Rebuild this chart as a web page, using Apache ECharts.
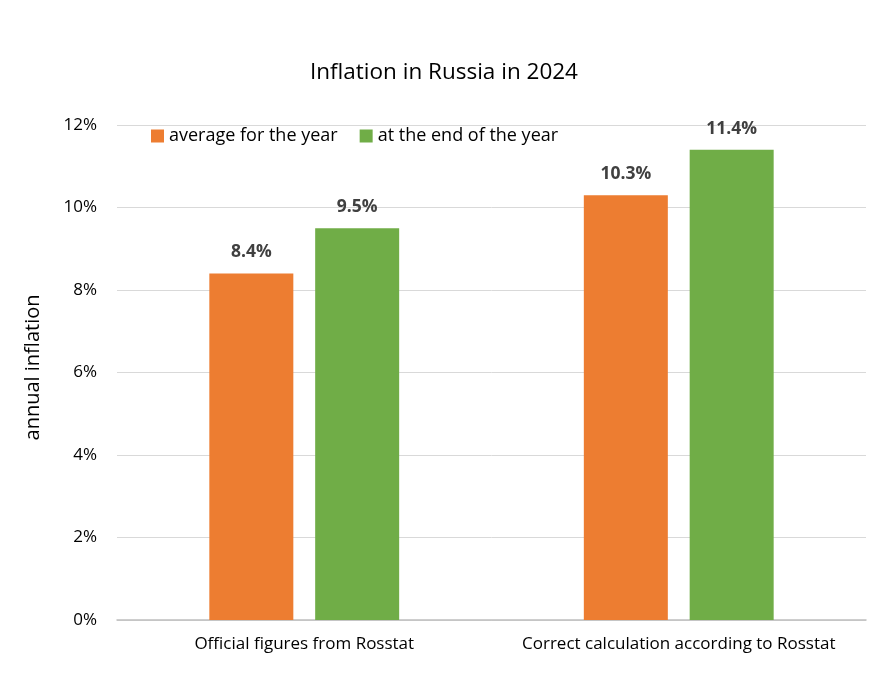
<!DOCTYPE html>
<html>
<head>
<meta charset="utf-8">
<script src="https://cdn.jsdelivr.net/npm/echarts@6/dist/echarts.min.js"></script>
<style>
  html, body { margin: 0; padding: 0; background: #fff; }
  #chart { width: 888px; height: 673px; }
</style>
</head>
<body>
<div id="chart"></div>
<script>
const categories = ['Official figures from Rosstat', 'Correct calculation according to Rosstat'];
const averageForYear = [8.4, 10.3];
const endOfYear = [9.5, 11.4];
const seriesNames = ['average for the year', 'at the end of the year'];
const yTicks = [0, 2, 4, 6, 8, 10, 12];

const font = '"Open Sans", "DejaVu Sans", sans-serif';
const myChart = echarts.init(document.getElementById('chart'));

const option = {
  backgroundColor: '#fff',
  animation: false,
  title: {
    text: 'Inflation in Russia in 2024',
    left: 'center',
    top: 56,
    textStyle: { fontFamily: font, fontSize: 22.5, fontWeight: 'normal', color: '#000' }
  },
  legend: {
    data: seriesNames,
    left: 146,
    top: 122,
    itemWidth: 13,
    itemHeight: 13,
    itemGap: 22,
    icon: 'rect',
    textStyle: { fontFamily: font, fontSize: 18, color: '#000' }
  },
  grid: { left: 117, right: 22, top: 125, bottom: 53 },
  xAxis: {
    type: 'category',
    data: categories,
    axisLine: { lineStyle: { color: '#bfbfbf', width: 1.5 } },
    axisTick: { show: false },
    axisLabel: {
      interval: 0, hideOverlap: false,
      fontFamily: font, fontSize: 17, color: '#000', margin: 16
    }
  },
  yAxis: {
    type: 'value',
    min: yTicks[0],
    max: yTicks[yTicks.length - 1],
    interval: 2,
    name: 'annual inflation',
    nameLocation: 'middle',
    nameGap: 74,
    nameTextStyle: { fontFamily: font, fontSize: 20, color: '#000', padding: [0, 0, 0, 10] },
    axisLine: { show: false },
    axisTick: { show: false },
    splitLine: { lineStyle: { color: '#d9d9d9', width: 1 } },
    axisLabel: {
      fontFamily: font, fontSize: 17, color: '#000', margin: 20,
      formatter: v => v + '%'
    }
  },
  series: [
    {
      name: seriesNames[0],
      type: 'bar',
      data: averageForYear,
      barWidth: 84,
      barGap: '26%',
      itemStyle: { color: '#ed7d31' },
      label: {
        show: true, position: 'top', distance: 12,
        fontFamily: font, fontSize: 17.5, fontWeight: 'bold', color: '#404040',
        formatter: p => p.value.toFixed(1) + '%'
      }
    },
    {
      name: seriesNames[1],
      type: 'bar',
      data: endOfYear,
      barWidth: 84,
      itemStyle: { color: '#70ad47' },
      label: {
        show: true, position: 'top', distance: 12,
        fontFamily: font, fontSize: 17.5, fontWeight: 'bold', color: '#404040',
        formatter: p => p.value.toFixed(1) + '%'
      }
    }
  ]
};

myChart.setOption(option, true);
</script>
</body>
</html>
